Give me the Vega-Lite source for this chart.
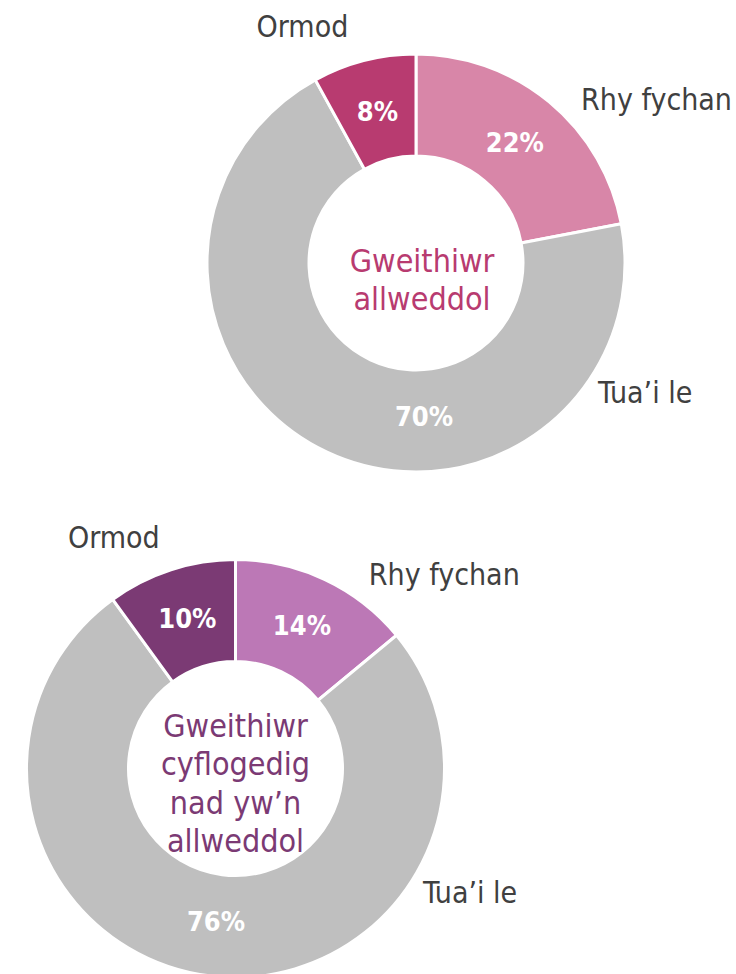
{
  "$schema": "https://vega.github.io/schema/vega-lite/v6.json",
  "padding": 0,
  "background": "#ffffff",
  "spacing": 0,
  "bounds": "flush",
  "config": {"view": {"stroke": null}, "font": "DejaVu Sans Condensed", "text": {"font": "DejaVu Sans Condensed"}},
  "datasets": {
    "shares": [
      {"group": "allweddol", "category": "Rhy fychan", "rank": 1, "share": 0.22},
      {"group": "allweddol", "category": "Tua’i le", "rank": 2, "share": 0.70},
      {"group": "allweddol", "category": "Ormod", "rank": 3, "share": 0.08},
      {"group": "nad", "category": "Rhy fychan", "rank": 1, "share": 0.14},
      {"group": "nad", "category": "Tua’i le", "rank": 2, "share": 0.76},
      {"group": "nad", "category": "Ormod", "rank": 3, "share": 0.10}
    ],
    "centres": [
      {"group": "allweddol", "name": "Gweithiwr\nallweddol"},
      {"group": "nad", "name": "Gweithiwr\ncyflogedig\nnad yw’n\nallweddol"}
    ]
  },
  "resolve": {"scale": {"color": "independent", "theta": "independent"}},
  "vconcat": [
    {
      "width": 832,
      "height": 526,
      "resolve": {"scale": {"theta": "independent"}},
      "layer": [
        {
          "data": {"name": "shares"},
          "transform": [{"filter": "datum.group === 'allweddol'"}],
          "mark": {"type": "arc", "outerRadius": 209, "innerRadius": 107, "stroke": "#ffffff", "strokeWidth": 3},
          "encoding": {
            "theta": {"field": "share", "type": "quantitative", "stack": true},
            "order": {"field": "rank", "type": "quantitative"},
            "color": {"field": "category", "type": "nominal", "scale": {"domain": ["Rhy fychan", "Tua’i le", "Ormod"], "range": ["#D886A8", "#BFBFBF", "#B83B70"]}, "legend": null}
          }
        },
        {
          "data": {"name": "shares"},
          "transform": [{"filter": "datum.group === 'allweddol'"}],
          "mark": {"type": "text", "radius": 155, "fontSize": 27, "fontWeight": "bold", "fill": "#ffffff"},
          "encoding": {
            "theta": {"field": "share", "type": "quantitative", "stack": true},
            "order": {"field": "rank", "type": "quantitative"},
            "text": {"condition": {"test": "datum.category === 'Tua’i le'", "value": ""}, "field": "share", "type": "quantitative", "format": ".0%"}
          }
        },
        {
          "data": {"name": "shares"},
          "transform": [{"filter": "datum.group === 'allweddol' && datum.category === 'Tua’i le'"}],
          "mark": {"type": "text", "theta": 3.09, "radius": 155, "fontSize": 27, "fontWeight": "bold", "fill": "#ffffff"},
          "encoding": {"text": {"field": "share", "type": "quantitative", "format": ".0%"}}
        },
        {
          "data": {"name": "shares"},
          "transform": [{"filter": "datum.group === 'allweddol' && datum.category === 'Ormod'"}],
          "mark": {"type": "text", "theta": 5.833, "radius": 261, "fontSize": 30, "fill": "#404040"},
          "encoding": {"text": {"field": "category", "type": "nominal"}}
        },
        {
          "data": {"name": "shares"},
          "transform": [{"filter": "datum.group === 'allweddol' && datum.category === 'Rhy fychan'"}],
          "mark": {"type": "text", "theta": 0.978, "radius": 290, "fontSize": 30, "fill": "#404040"},
          "encoding": {"text": {"field": "category", "type": "nominal"}}
        },
        {
          "data": {"name": "shares"},
          "transform": [{"filter": "datum.group === 'allweddol' && datum.category === 'Tua’i le'"}],
          "mark": {"type": "text", "theta": 2.09, "radius": 264, "fontSize": 30, "fill": "#404040"},
          "encoding": {"text": {"field": "category", "type": "nominal"}}
        },
        {
          "data": {"name": "centres"},
          "transform": [{"filter": "datum.group === 'allweddol'"}],
          "mark": {"type": "text", "fontSize": 32, "fill": "#B83B70", "lineBreak": "\n", "lineHeight": 37.5, "dx": 6, "dy": -1},
          "encoding": {"text": {"field": "name", "type": "nominal"}}
        }
      ]
    },
    {
      "width": 471,
      "height": 485,
      "resolve": {"scale": {"theta": "independent"}},
      "layer": [
        {
          "data": {"name": "shares"},
          "transform": [{"filter": "datum.group === 'nad'"}],
          "mark": {"type": "arc", "outerRadius": 209, "innerRadius": 107, "stroke": "#ffffff", "strokeWidth": 3},
          "encoding": {
            "theta": {"field": "share", "type": "quantitative", "stack": true},
            "order": {"field": "rank", "type": "quantitative"},
            "color": {"field": "category", "type": "nominal", "scale": {"domain": ["Rhy fychan", "Tua’i le", "Ormod"], "range": ["#BC78B6", "#BFBFBF", "#7B3A74"]}, "legend": null}
          }
        },
        {
          "data": {"name": "shares"},
          "transform": [{"filter": "datum.group === 'nad'"}],
          "mark": {"type": "text", "radius": 156, "fontSize": 27, "fontWeight": "bold", "fill": "#ffffff"},
          "encoding": {
            "theta": {"field": "share", "type": "quantitative", "stack": true},
            "order": {"field": "rank", "type": "quantitative"},
            "text": {"field": "share", "type": "quantitative", "format": ".0%"}
          }
        },
        {
          "data": {"name": "shares"},
          "transform": [{"filter": "datum.group === 'nad' && datum.category === 'Ormod'"}],
          "mark": {"type": "text", "theta": 5.796, "radius": 260, "fontSize": 30, "fill": "#404040"},
          "encoding": {"text": {"field": "category", "type": "nominal"}}
        },
        {
          "data": {"name": "shares"},
          "transform": [{"filter": "datum.group === 'nad' && datum.category === 'Rhy fychan'"}],
          "mark": {"type": "text", "theta": 0.826, "radius": 284, "fontSize": 30, "fill": "#404040"},
          "encoding": {"text": {"field": "category", "type": "nominal"}}
        },
        {
          "data": {"name": "shares"},
          "transform": [{"filter": "datum.group === 'nad' && datum.category === 'Tua’i le'"}],
          "mark": {"type": "text", "theta": 2.062, "radius": 266, "fontSize": 30, "fill": "#404040"},
          "encoding": {"text": {"field": "category", "type": "nominal"}}
        },
        {
          "data": {"name": "centres"},
          "transform": [{"filter": "datum.group === 'nad'"}],
          "mark": {"type": "text", "fontSize": 32, "fill": "#7B3A74", "lineBreak": "\n", "lineHeight": 38.5, "dy": -42},
          "encoding": {"text": {"field": "name", "type": "nominal"}}
        }
      ]
    }
  ]
}
